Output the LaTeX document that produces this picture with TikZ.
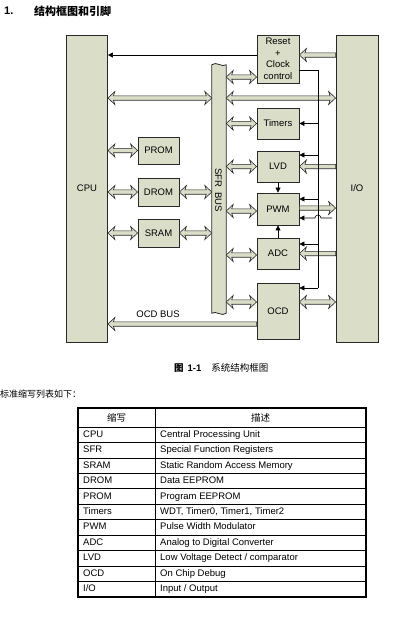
\documentclass[tikz,border=0pt]{standalone}
\usepackage{fontspec}
\setmainfont{Liberation Sans}
\newfontfamily\cjk{Noto Sans CJK SC}
\usetikzlibrary{calc,arrows.meta}
\definecolor{boxc}{RGB}{218,222,201}
\definecolor{linec}{RGB}{40,40,40}
\tikzset{every node/.style={font=\fontsize{9.5}{11.5}\selectfont},
  blk/.style={draw=linec, fill=boxc, line width=0.8pt, inner sep=0pt,
    minimum width=42pt, minimum height=31pt, align=center},
  bus/.style={draw=linec, fill=boxc, line width=0.6pt, to path={
    let \p1=(\tikztostart), \p2=(\tikztotarget) in
    (\x1,\y1) -- (\x1+7pt,\y1+6.5pt) -- (\x1+5.5pt,\y1+2.2pt)
    -- (\x2-5.5pt,\y2+2.2pt) -- (\x2-7pt,\y2+6.5pt) -- (\x2,\y2)
    -- (\x2-7pt,\y2-6.5pt) -- (\x2-5.5pt,\y2-2.2pt)
    -- (\x1+5.5pt,\y1-2.2pt) -- (\x1+7pt,\y1-6.5pt) -- cycle}},
  bus1/.style={draw=linec, fill=boxc, line width=0.6pt, to path={
    let \p1=(\tikztostart), \p2=(\tikztotarget),
        \n1={(\x2>\x1)?1:-1} in
    (\x1,\y1+2.2pt) -- ({\x2-\n1*5.5pt},\y2+2.2pt) -- ({\x2-\n1*7pt},\y2+6.5pt)
    -- (\x2,\y2) -- ({\x2-\n1*7pt},\y2-6.5pt) -- ({\x2-\n1*5.5pt},\y2-2.2pt)
    -- (\x1,\y1-2.2pt) -- cycle}},
  ctl/.style={draw=black, line width=0.6pt, -{Triangle[length=5pt,width=5pt]}},
  cell/.style={anchor=west, inner sep=0pt, text height=7pt, text depth=2pt}}

\begin{document}
\begin{tikzpicture}[x=1pt, y=-1pt]
\useasboundingbox (0,0) rectangle (403,633);
% heading
\node (num) [anchor=west, inner sep=0pt, font=\fontsize{11}{13}\selectfont\bfseries] at (4,11) {1.};
\node (title) [anchor=west, inner sep=0pt, font=\fontsize{11}{13}\selectfont\bfseries\cjk] at (34,11) {结构框图和引脚};

% blocks
\node (cpu) [blk, minimum width=41pt, minimum height=307pt] at (87,188.5) {CPU};
\node (io) [blk, minimum height=307pt] at (357,188.5) {I/O};
\node (rst) [blk, minimum height=48pt] at (278,59) {Reset\\+\\Clock\\control};
\node (tmr) [blk] at (278,123.5) {Timers};
\node (lvd) [blk] at (278,166.5) {LVD};
\node (pwm) [blk, minimum height=32pt] at (278,209) {PWM};
\node (adc) [blk] at (278,253.5) {ADC};
\node (ocd) [blk, minimum height=56pt] at (278,311) {OCD};
\node (prom) [blk, minimum width=41pt, minimum height=27pt] at (158.5,150.5) {PROM};
\node (drom) [blk, minimum width=41pt, minimum height=28pt] at (158.5,192) {DROM};
\node (sram) [blk, minimum width=41pt, minimum height=28pt] at (158.5,233) {SRAM};

% sfr bus
\node (sfr) [inner sep=0pt, minimum width=14pt, minimum height=248pt] at (219,189) {};
\draw[draw=linec, fill=boxc, line width=0.8pt] (sfr.north west)
  .. controls +(4pt,4pt) and +(-4pt,-3pt) .. (sfr.north east) -- (sfr.south east)
  .. controls +(-4pt,-4pt) and +(4pt,3pt) .. (sfr.south west) -- cycle;
\node (sfrlbl) [rotate=-90] at (218.5,190) {SFR\ \ BUS};

% wide buses
\draw[bus] (cpu.east |- 0,98) to (sfr.west |- 0,98);
\draw[bus] (sfr.east |- 0,98) to (io.west |- 0,98);
\draw[bus] (sfr.east |- 0,77) to (rst.west |- 0,77);
\draw[bus] (sfr.east |- tmr.west) to (tmr.west);
\draw[bus] (sfr.east |- lvd.west) to (lvd.west);
\draw[bus] (sfr.east |- 0,211) to (pwm.west |- 0,211);
\draw[bus] (sfr.east |- 0,255) to (adc.west |- 0,255);
\draw[bus] (sfr.east |- 0,302) to (ocd.west |- 0,302);
\draw[bus] (cpu.east |- prom.west) to (prom.west);
\draw[bus] (cpu.east |- drom.west) to (drom.west);
\draw[bus] (drom.east) to (sfr.west |- drom.east);
\draw[bus] (cpu.east |- sram.west) to (sram.west);
\draw[bus] (sram.east) to (sfr.west |- sram.east);
\draw[bus] (ocd.east |- 0,302) to (io.west |- 0,302);
\draw[bus1] (io.west |- 0,55) to (rst.east |- 0,55);
\draw[bus1] (io.west |- lvd.east) to (lvd.east);
\draw[bus1] (io.west |- adc.east) to (adc.east);
\draw[bus1] (pwm.east |- 0,208) to (io.west |- 0,208);
\draw[bus1] (ocd.west |- 0,324) to (cpu.east |- 0,324);
\node (ocdbus) at (158,314) {OCD BUS};

% reset and clock lines
\coordinate (clk) at (318,288);
\coordinate (pin) at (332,218);
\draw[ctl] (rst.west |- 0,55) -- (cpu.east |- 0,55);
\draw[line width=0.6pt] (rst.east |- 0,70) -| (clk);
\draw[ctl] (clk) -- (ocd.east |- clk);
\draw[ctl] (clk |- tmr.east) -- (tmr.east);
\draw[ctl] (clk |- 0,155) -- (lvd.east |- 0,155);
\draw[ctl] (clk |- 0,199) -- (pwm.east |- 0,199);
\draw[ctl] (clk |- 0,244) -- (adc.east |- 0,244);
\draw[ctl] (pin) -- (321,218) arc[start angle=0, end angle=180, radius=3pt] -- (pwm.east |- pin);
\draw[ctl] (lvd) -- (pwm);
\draw[ctl] (adc) -- (pwm);

% caption
\node (cap) [anchor=west, inner sep=0pt] at (174,368)
  {{\cjk\bfseries 图}\hspace{4pt}{\bfseries 1-1}\hspace{10pt}{\cjk 系统结构框图}};
\node (intro) [anchor=west, inner sep=0pt, font=\fontsize{9}{11}\selectfont\cjk] at (0,394) {标准缩写列表如下：};

% table
\draw[line width=1.4pt] (78,408) rectangle (366,597);
\draw[line width=0.8pt] (155,408) -- (155,597);
\draw[line width=0.8pt] (78,427) -- (366,427);
\draw[line width=0.8pt] (78,442.45) -- (366,442.45);
\draw[line width=0.8pt] (78,457.9) -- (366,457.9);
\draw[line width=0.8pt] (78,473.35) -- (366,473.35);
\draw[line width=0.8pt] (78,488.8) -- (366,488.8);
\draw[line width=0.8pt] (78,504.25) -- (366,504.25);
\draw[line width=0.8pt] (78,519.7) -- (366,519.7);
\draw[line width=0.8pt] (78,535.15) -- (366,535.15);
\draw[line width=0.8pt] (78,550.6) -- (366,550.6);
\draw[line width=0.8pt] (78,566.05) -- (366,566.05);
\draw[line width=0.8pt] (78,581.5) -- (366,581.5);
\node (habbr) [font=\fontsize{9.5}{11.5}\selectfont\cjk] at (116.5,417.5) {缩写};
\node (hdesc) [font=\fontsize{9.5}{11.5}\selectfont\cjk] at (260.5,417.5) {描述};
\node (a1) [cell] at (83,434.7) {CPU};
\node (d1) [cell] at (160,434.7) {Central Processing Unit};
\node (a2) [cell] at (83,450.2) {SFR};
\node (d2) [cell] at (160,450.2) {Special Function Registers};
\node (a3) [cell] at (83,465.6) {SRAM};
\node (d3) [cell] at (160,465.6) {Static Random Access Memory};
\node (a4) [cell] at (83,481.1) {DROM};
\node (d4) [cell] at (160,481.1) {Data EEPROM};
\node (a5) [cell] at (83,496.5) {PROM};
\node (d5) [cell] at (160,496.5) {Program EEPROM};
\node (a6) [cell] at (83,512) {Timers};
\node (d6) [cell] at (160,512) {WDT, Timer0, Timer1, Timer2};
\node (a7) [cell] at (83,527.4) {PWM};
\node (d7) [cell] at (160,527.4) {Pulse Width Modulator};
\node (a8) [cell] at (83,542.9) {ADC};
\node (d8) [cell] at (160,542.9) {Analog to Digital Converter};
\node (a9) [cell] at (83,558.3) {LVD};
\node (d9) [cell] at (160,558.3) {Low Voltage Detect / comparator};
\node (a10) [cell] at (83,573.8) {OCD};
\node (d10) [cell] at (160,573.8) {On Chip Debug};
\node (a11) [cell] at (83,589.25) {I/O};
\node (d11) [cell] at (160,589.25) {Input / Output};
\end{tikzpicture}
\end{document}
